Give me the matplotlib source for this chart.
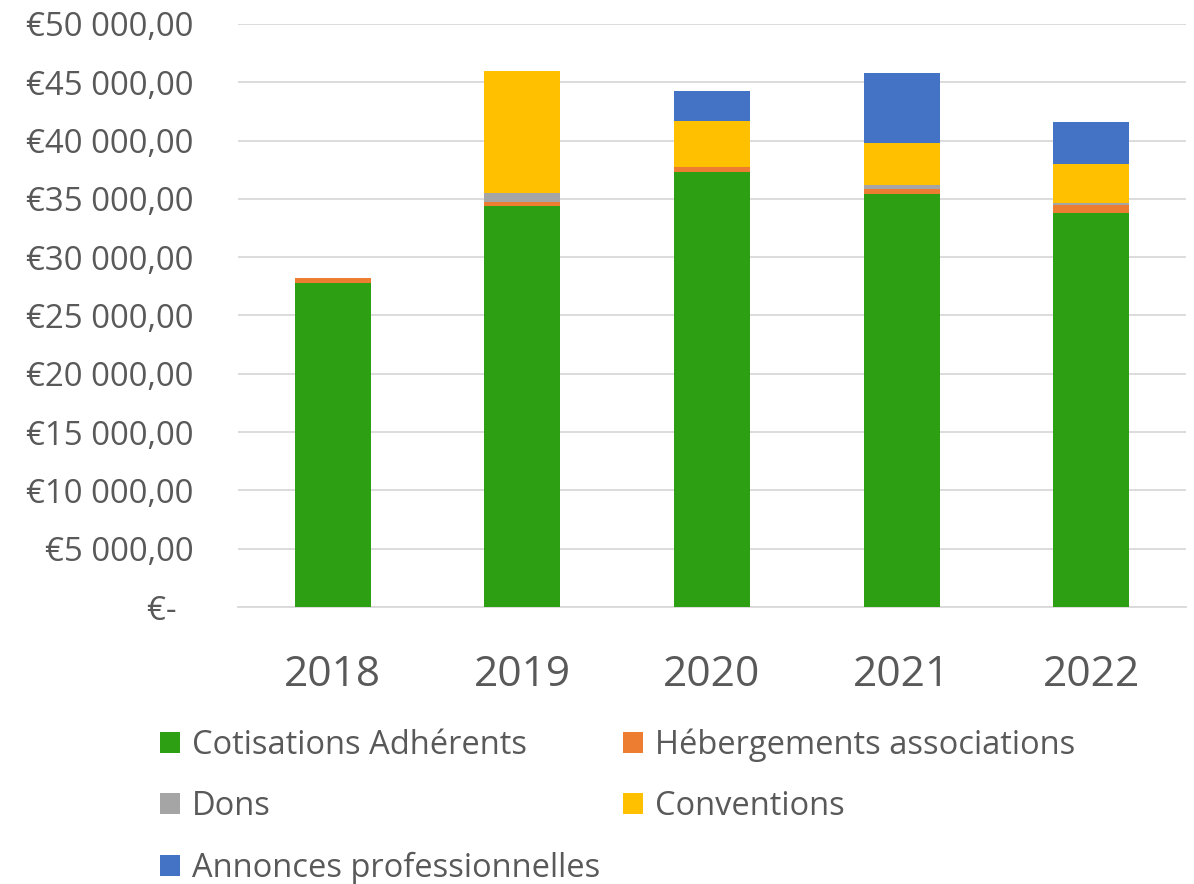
import numpy as np
import matplotlib.pyplot as plt

years = ['2018', '2019', '2020', '2021', '2022']
cotisations = [27800, 34420, 37310, 35450, 33820]
hebergements = [450, 290, 430, 400, 660]
dons = [0, 770, 0, 340, 145]
conventions = [0, 10490, 3940, 3600, 3370]
annonces = [0, 0, 2570, 6010, 3610]

series = [
    ('Cotisations Adhérents', cotisations, '#2CA012'),
    ('Hébergements associations', hebergements, '#ED7D31'),
    ('Dons', dons, '#A5A5A5'),
    ('Conventions', conventions, '#FFC000'),
    ('Annonces professionnelles', annonces, '#4472C4'),
]

plt.rcParams['font.family'] = ['Open Sans', 'DejaVu Sans']
txt = '#595959'

fig = plt.figure(figsize=(11.94, 8.84), dpi=100)
ax = fig.add_axes([0.1993, 0.3133, 0.7940, 0.6596])

x = np.arange(len(years))
bottom = np.zeros(len(years))
handles = []
for name, vals, col in series:
    b = ax.bar(x, vals, 0.4, bottom=bottom, color=col, label=name, zorder=3)
    handles.append(b)
    bottom += np.array(vals)

ax.set_xlim(-0.5, len(years) - 0.5)
ax.set_ylim(0, 50000)
yt = np.arange(0, 50001, 5000)
ax.set_yticks(yt)
ylabels = ['€-  '] + ['€' + f'{v:,}'.replace(',', ' ') + ',00' for v in yt[1:]]
ax.set_yticklabels(ylabels, fontsize=23.8, color=txt)
ax.set_xticks(x)
ax.set_xticklabels(years, fontsize=30.5, color=txt)
ax.tick_params(axis='y', length=0, pad=32)
ax.tick_params(axis='x', length=0, pad=34)
ax.grid(axis='y', color='#D9D9D9', linewidth=1.3, zorder=0)
for s in ['top', 'right', 'left']:
    ax.spines[s].set_visible(False)
ax.spines['bottom'].set_color('#D9D9D9')
ax.spines['bottom'].set_linewidth(1.3)

# row-wise order for a two-column legend
order = [0, 2, 4, 1, 3]
leg = fig.legend([handles[i] for i in order], [series[i][0] for i in order],
                 ncol=2, loc='upper left', bbox_to_anchor=(0.134, 0.176),
                 frameon=False, fontsize=23.5, handlelength=0.61, handleheight=0.61,
                 handletextpad=0.37, columnspacing=0.7, labelspacing=0.87,
                 borderpad=0, borderaxespad=0)
for t in leg.get_texts():
    t.set_color(txt)

fig.savefig('out.png', dpi=100)
